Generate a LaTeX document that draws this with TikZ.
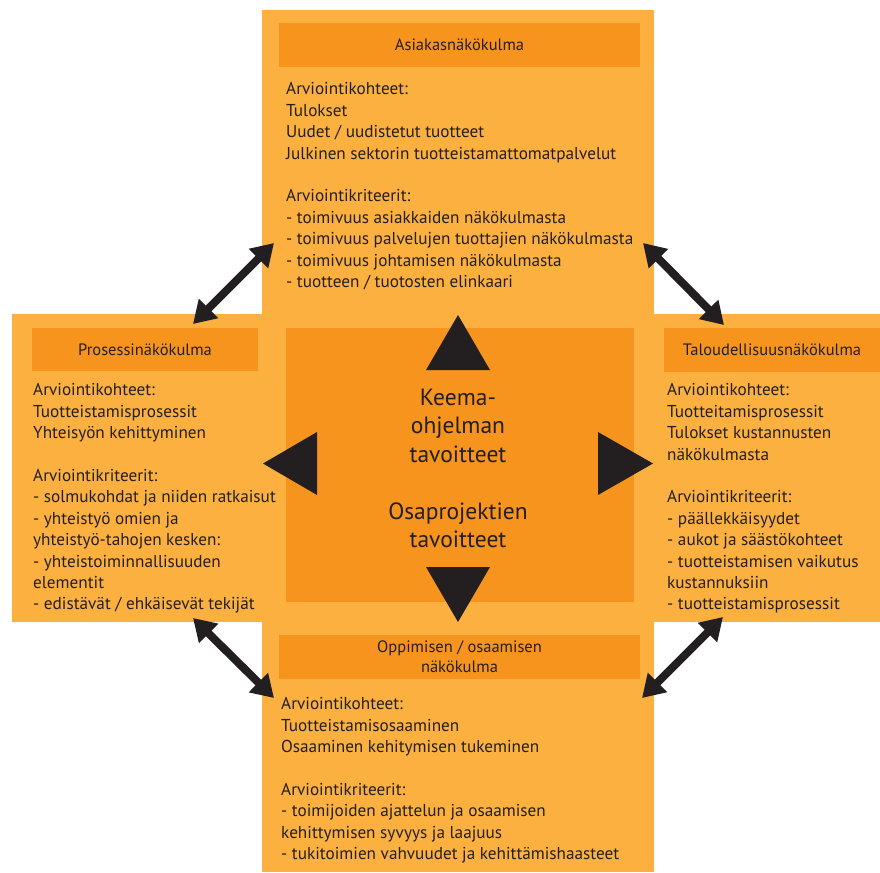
\documentclass[tikz,border=0pt]{standalone}
\usepackage{fontspec}
\setmainfont{PT Sans}
\usetikzlibrary{arrows.meta}
\definecolor{oranssi}{HTML}{FBB040}
\definecolor{toranssi}{HTML}{F7941D}
\definecolor{musta}{HTML}{231F20}
\tikzset{
  otsikko/.style={fill=toranssi,text=musta,inner sep=0pt,align=center,font=\fontsize{16.5}{20}\selectfont},
  teksti/.style={text=musta,inner sep=0pt,align=left,anchor=north west,font=\fontsize{17.2}{21.4}\selectfont},
  nuoli/.style={{Triangle[length=22pt,width=26pt]}-{Triangle[length=22pt,width=26pt]},musta,line width=8pt},
  kolmio/.style={fill=musta},
}
\begin{document}
\begin{tikzpicture}[x=1pt,y=-1pt]
  \useasboundingbox (0,0) rectangle (880,872);
  % risti
  \fill[oranssi] (262,10) rectangle (654,872);
  \fill[oranssi] (12,314) rectangle (880,622);
  % keskus
  \node[fill=toranssi,minimum width=348pt,minimum height=274pt,inner sep=0pt] (keskus) at (460,465) {};
  \node[text=musta,inner sep=0pt,align=center,anchor=north,font=\fontsize{23.5}{28.5}\selectfont] (tavoite) at (458,388.5)
    {Keema-\\ohjelman\\tavoitteet\\[28.5pt]Osaprojektien\\tavoitteet};
  \fill[kolmio] (426,370) -- (458,315) -- (490,370) -- cycle;
  \fill[kolmio] (426,567) -- (458,622) -- (490,567) -- cycle;
  \fill[kolmio] (317,432) -- (263,463.5) -- (317,495) -- cycle;
  \fill[kolmio] (598,432) -- (653,463.5) -- (598,495) -- cycle;
  % otsikot
  \node[otsikko,minimum width=361pt,minimum height=44pt] (asiakas) at (459.5,45) {Asiakasnäkökulma};
  \node[otsikko,minimum width=226pt,minimum height=43pt] (prosessi) at (145,349.5) {Prosessinäkökulma};
  \node[otsikko,minimum width=216pt,minimum height=44pt] (talous) at (772,350) {Taloudellisuusnäkökulma};
  \node[otsikko,minimum width=361pt,minimum height=44pt] (oppiminen) at (459.5,657) {Oppimisen / osaamisen\\näkökulma};
  % tekstit
  \node[teksti] (tasiakas) at (286,82.5) {Arviointikohteet:\\Tulokset\\Uudet / uudistetut tuotteet\\Julkinen sektorin tuotteistamattomatpalvelut\\[21.4pt]
    Arviointikriteerit:\\- toimivuus asiakkaiden näkökulmasta\\- toimivuus palvelujen tuottajien näkökulmasta\\- toimivuus johtamisen näkökulmasta\\- tuotteen / tuotosten elinkaari};
  \node[teksti] (tprosessi) at (33,383.5) {Arviointikohteet:\\Tuotteistamisprosessit\\Yhteisyön kehittyminen\\[21.4pt]
    Arviointikriteerit:\\- solmukohdat ja niiden ratkaisut\\- yhteistyö omien ja\\yhteistyö-tahojen kesken:\\- yhteistoiminnallisuuden\\elementit\\- edistävät / ehkäisevät tekijät};
  \node[teksti] (ttalous) at (667,383.5) {Arviointikohteet:\\Tuotteitamisprosessit\\Tulokset kustannusten\\näkökulmasta\\[21.4pt]
    Arviointikriteerit:\\- päällekkäisyydet\\- aukot ja säästökohteet\\- tuotteistamisen vaikutus\\kustannuksiin\\- tuotteistamisprosessit};
  \node[teksti] (toppiminen) at (281,697.5) {Arviointikohteet:\\Tuotteistamisosaaminen\\Osaaminen kehitymisen tukeminen\\[21.4pt]
    Arviointikriteerit:\\- toimijoiden ajattelun ja osaamisen\\kehittymisen syvyys ja laajuus\\- tukitoimien vahvuudet ja kehittämishaasteet};
  % nuolet
  \coordinate (vy1) at (193,324);
  \coordinate (vy2) at (274,243);
  \coordinate (oy1) at (643,243);
  \coordinate (oy2) at (724,325);
  \coordinate (va1) at (193,618);
  \coordinate (va2) at (274,698);
  \coordinate (oa1) at (642,698);
  \coordinate (oa2) at (723,617);
  \draw[nuoli] (vy1) -- (vy2);
  \draw[nuoli] (oy1) -- (oy2);
  \draw[nuoli] (va1) -- (va2);
  \draw[nuoli] (oa1) -- (oa2);
\end{tikzpicture}
\end{document}
